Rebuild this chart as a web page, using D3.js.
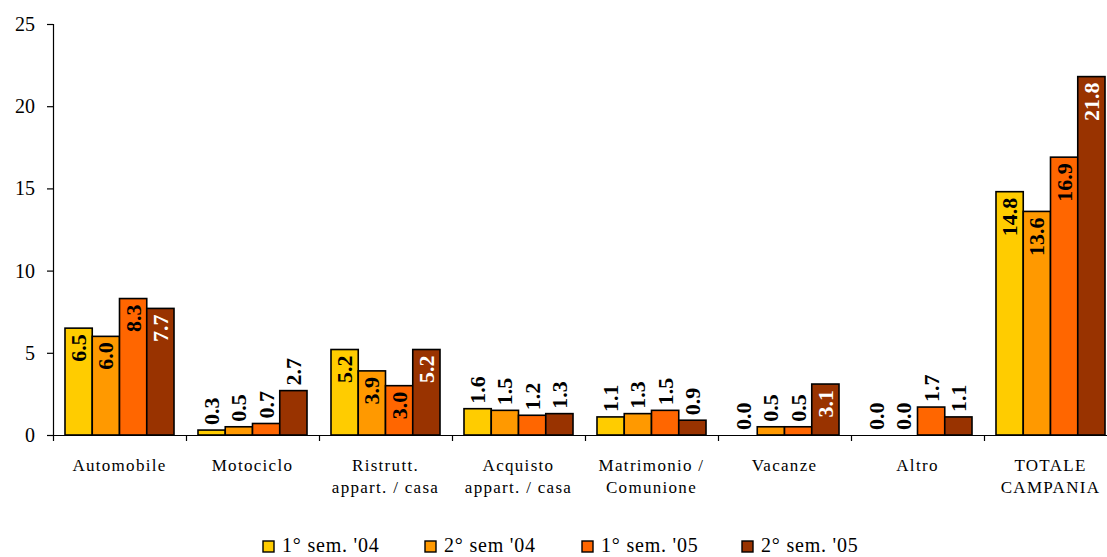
<!DOCTYPE html>
<html>
<head>
<meta charset="utf-8">
<script src="https://cdn.jsdelivr.net/npm/d3@7"></script>
<style>
  html, body { margin: 0; padding: 0; background: #fff; }
  svg { display: block; font-family: "Liberation Serif", "Times New Roman", serif; }
</style>
</head>
<body>
<svg id="chart" width="1107" height="557"></svg>
<script>
// Categories (each entry is a list of label lines)
const categories = [
  ["Automobile"],
  ["Motociclo"],
  ["Ristrutt.", "appart. / casa"],
  ["Acquisto", "appart. / casa"],
  ["Matrimonio /", "Comunione"],
  ["Vacanze"],
  ["Altro"],
  ["TOTALE", "CAMPANIA"]
];

const seriesNames = ["1° sem. '04", "2° sem '04", "1° sem. '05", "2° sem. '05"];
const seriesColors = ["#FFCC00", "#FF9900", "#FF6600", "#993300"];

const sem1_04 = [6.5, 0.3, 5.2, 1.6, 1.1, 0.0, 0.0, 14.8];
const sem2_04 = [6.0, 0.5, 3.9, 1.5, 1.3, 0.5, 0.0, 13.6];
const sem1_05 = [8.3, 0.7, 3.0, 1.2, 1.5, 0.5, 1.7, 16.9];
const sem2_05 = [7.7, 2.7, 5.2, 1.3, 0.9, 3.1, 1.1, 21.8];
const seriesValues = [sem1_04, sem2_04, sem1_05, sem2_05];

const yTicks = [0, 5, 10, 15, 20, 25];

const svg = d3.select("#chart");
const plotLeft = 53, plotRight = 1117, plotTop = 24, plotBottom = 435;

const catKeys = categories.map((c, i) => i);
const x = d3.scaleBand().domain(catKeys).range([plotLeft, plotRight]).padding(0);
const xs = d3.scaleBand().domain(d3.range(seriesNames.length))
  .range([0, x.bandwidth()]).paddingInner(0).paddingOuter(0.44);
const y = d3.scaleLinear().domain([0, 25]).range([plotBottom, plotTop]);

// Y axis
const yAxis = svg.append("g")
  .attr("transform", `translate(${plotLeft},0)`)
  .call(d3.axisLeft(y).tickValues(yTicks).tickSize(6).tickPadding(12).tickFormat(d3.format("d")));
yAxis.select(".domain").attr("stroke", "#000").attr("stroke-width", 1.2);
yAxis.selectAll(".tick line").attr("stroke", "#000").attr("stroke-width", 1.2);
yAxis.selectAll(".tick text")
  .attr("fill", "#000")
  .style("font-family", "'Liberation Serif', 'Times New Roman', serif")
  .style("font-size", "20px");

// Bars
const rows = [];
seriesValues.forEach((vals, s) => vals.forEach((v, c) => rows.push({ s, c, v })));

const gBars = svg.append("g");
gBars.selectAll("rect")
  .data(rows.filter(d => d.v > 0))
  .join("rect")
  .attr("x", d => x(d.c) + xs(d.s))
  .attr("y", d => y(d.v))
  .attr("width", xs.bandwidth())
  .attr("height", d => y(0) - y(d.v))
  .attr("fill", d => seriesColors[d.s])
  .attr("stroke", "#000")
  .attr("stroke-width", 1.6);

// X axis with ticks at category boundaries
const xb = d3.scaleLinear().domain([0, categories.length]).range([plotLeft, plotRight]);
const xAxis = svg.append("g")
  .attr("transform", `translate(0,${plotBottom})`)
  .call(d3.axisBottom(xb).tickValues(d3.range(categories.length + 1)).tickSize(6).tickSizeOuter(0).tickFormat(""));
xAxis.select(".domain").attr("stroke", "#000").attr("stroke-width", 1.2);
xAxis.selectAll(".tick line").attr("stroke", "#000").attr("stroke-width", 1.2);

// Value labels (rotated)
const insideMin = 2.9;
svg.append("g").selectAll("text")
  .data(rows)
  .join("text")
  .attr("transform", d => {
    const cx = x(d.c) + xs(d.s) + xs.bandwidth() / 2;
    const yy = d.v >= insideMin ? y(d.v) + 6 : y(d.v) - 5;
    return `translate(${cx},${yy}) rotate(-90)`;
  })
  .attr("dy", "0.34em")
  .attr("text-anchor", d => d.v >= insideMin ? "end" : "start")
  .attr("fill", d => (d.v >= insideMin && d.s === 3) ? "#fff" : "#000")
  .style("font-weight", "bold")
  .style("font-size", "22px")
  .text(d => d.v.toFixed(1));

// Category labels
const gCat = svg.append("g");
categories.forEach((lines, i) => {
  const t = gCat.append("text")
    .attr("x", x(i) + x.bandwidth() / 2)
    .attr("y", 471)
    .attr("text-anchor", "middle")
    .attr("fill", "#000")
    .style("font-size", "17px")
    .style("letter-spacing", "1.3px");
  lines.forEach((ln, k) => {
    t.append("tspan")
      .attr("x", x(i) + x.bandwidth() / 2)
      .attr("dy", k === 0 ? 0 : 22)
      .text(ln);
  });
});

// Legend
const legendX = [263, 425, 582, 742];
const gLeg = svg.append("g");
seriesNames.forEach((name, i) => {
  gLeg.append("rect")
    .attr("x", legendX[i]).attr("y", 541)
    .attr("width", 11).attr("height", 11)
    .attr("fill", seriesColors[i])
    .attr("stroke", "#000").attr("stroke-width", 1.4);
  gLeg.append("text")
    .attr("x", legendX[i] + 19).attr("y", 552)
    .attr("fill", "#000")
    .style("font-size", "20px")
    .style("letter-spacing", "0.8px")
    .text(name);
});
</script>
</body>
</html>
